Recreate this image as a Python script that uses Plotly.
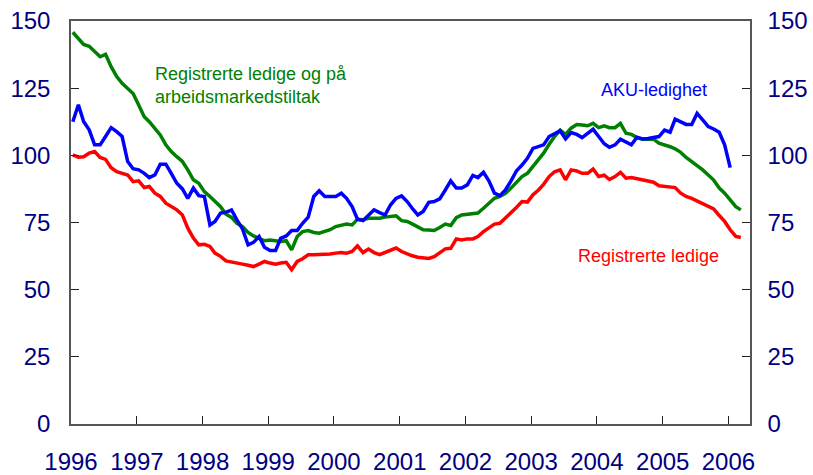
import pandas as pd
import plotly.graph_objects as go

# Monthly index values, Jan 1996 onwards (1996 = 100 for registered unemployed)
registrerte_tiltak = [
    145.8, 143.5, 141.3, 140.6, 138.6, 136.7, 137.6, 133.0, 129.3, 126.8, 124.9, 123.0,
    118.7, 114.4, 112.5, 110.0, 107.6, 103.9, 101.4, 99.5, 97.7, 94.6, 90.9, 89.6,
    86.5, 84.7, 82.8, 80.9, 78.1, 76.9, 74.7, 73.5, 71.3, 70.0, 69.1, 68.2,
    68.5, 68.2, 67.9, 68.2, 64.8, 69.8, 71.6, 72.0, 71.3, 71.0, 71.6, 72.3,
    73.5, 74.1, 74.4, 74.1, 76.2, 76.0, 76.6, 76.6, 76.6, 77.0, 77.2, 77.5,
    75.7, 75.4, 74.5, 73.3, 72.3, 72.2, 72.0, 73.1, 74.4, 73.9, 76.8, 77.8,
    78.1, 78.1, 78.5, 80.3, 82.2, 84.0, 84.7, 85.9, 87.8, 90.0, 92.1, 93.3,
    95.8, 98.3, 100.8, 104.1, 107.0, 109.4, 107.8, 110.1, 111.5, 111.3, 111.0, 111.9,
    110.3, 111.0, 110.3, 110.3, 111.9, 108.2, 107.8, 106.6, 106.0, 106.0, 106.0, 104.5,
    103.9, 103.2, 102.4, 101.1, 99.2, 97.7, 96.2, 94.6, 92.7, 90.8, 87.8, 85.9,
    83.4, 80.9, 79.7,
]

aku_ledighet = [
    112.5, 118.8, 112.6, 109.5, 103.9, 103.9, 107.0, 110.3, 108.8, 107.0, 97.7, 95.0,
    94.6, 93.3, 91.7, 92.7, 96.7, 96.7, 93.3, 89.6, 87.5, 84.0, 87.8, 85.0,
    84.7, 74.1, 75.4, 78.5, 78.8, 79.7, 76.0, 72.6, 66.7, 67.6, 69.8, 65.8,
    64.6, 64.6, 69.1, 70.0, 72.0, 72.0, 74.7, 77.0, 84.7, 86.8, 84.7, 84.7,
    84.7, 85.9, 84.0, 80.9, 76.2, 75.7, 77.5, 79.7, 78.7, 77.8, 81.6, 84.0,
    84.9, 82.8, 80.3, 77.8, 79.1, 82.5, 82.8, 83.8, 87.1, 90.5, 87.8, 87.8,
    89.0, 92.5, 91.7, 93.7, 90.5, 85.9, 85.0, 87.1, 90.5, 94.2, 96.4, 98.9,
    102.6, 103.2, 103.9, 107.0, 108.2, 109.1, 106.1, 108.5, 107.8, 106.6, 108.2, 109.7,
    107.0, 104.3, 103.0, 103.9, 106.0, 105.1, 103.9, 106.7, 106.1, 106.3, 106.6, 107.0,
    109.4, 108.6, 113.5, 112.5, 111.5, 111.5, 115.6, 113.2, 110.7, 109.8, 108.6, 103.9,
    95.4,
]

registrerte_ledige = [
    100.2, 99.3, 99.5, 100.8, 101.4, 99.2, 98.5, 95.4, 93.9, 93.3, 92.7, 90.2,
    90.5, 88.0, 88.4, 85.9, 84.7, 82.2, 80.9, 79.7, 77.8, 72.9, 69.2, 66.7,
    66.9, 66.1, 63.6, 62.4, 60.7, 60.2, 59.9, 59.5, 59.1, 58.6, 59.5, 60.5,
    59.9, 59.5, 59.9, 60.2, 57.4, 60.5, 61.5, 63.0, 63.0, 63.0, 63.0, 63.3,
    63.6, 63.8, 63.6, 64.2, 66.3, 63.8, 65.1, 63.8, 63.0, 63.8, 64.8, 65.5,
    64.2, 63.3, 62.6, 62.1, 61.7, 61.6, 62.3, 63.6, 65.2, 65.4, 68.9, 68.5,
    68.9, 68.9, 69.8, 71.6, 73.1, 74.4, 74.7, 76.6, 78.5, 80.6, 82.8, 82.6,
    85.3, 87.1, 89.2, 92.1, 93.9, 94.6, 90.9, 94.6, 94.2, 93.3, 93.3, 94.9,
    92.1, 92.6, 91.0, 92.1, 93.7, 91.5, 91.7, 91.2, 90.8, 90.5, 90.0, 88.7,
    88.4, 88.4, 88.0, 85.9, 84.7, 84.0, 83.0, 81.8, 80.9, 80.1, 77.6, 75.4,
    72.3, 69.8, 69.4,
]

year_labels = [str(y) for y in range(1996, 2007)]
y_ticks = [0, 25, 50, 75, 100, 125, 150]

months = pd.date_range("1996-01-01", periods=len(registrerte_tiltak), freq="MS") + pd.Timedelta(days=10)

FONT = "Liberation Sans, Arial, sans-serif"
NAVY = "#000080"

fig = go.Figure()
fig.add_trace(go.Scatter(x=months, y=registrerte_tiltak, mode="lines",
                         line=dict(color="#008000", width=3.5)))
fig.add_trace(go.Scatter(x=months[:len(aku_ledighet)], y=aku_ledighet, mode="lines",
                         line=dict(color="#0000FF", width=3.5)))
fig.add_trace(go.Scatter(x=months, y=registrerte_ledige, mode="lines",
                         line=dict(color="#FF0000", width=3.5), yaxis="y2"))

axis_common = dict(showgrid=False, zeroline=False, showline=True, linecolor="#555555",
                   linewidth=1.5, ticks="inside", ticklen=8, tickcolor="#222222",
                   automargin=False,
                   tickfont=dict(family=FONT, size=24, color=NAVY))

fig.update_layout(
    width=813, height=475,
    margin=dict(l=71, r=63, t=21, b=51),
    paper_bgcolor="white", plot_bgcolor="white",
    showlegend=False,
    xaxis=dict(axis_common, type="date", range=["1996-01-01", "2006-05-01"],
               tickvals=[f"{y}-01-01" for y in year_labels], ticktext=year_labels,
               mirror=True, ticklabelstandoff=15),
    yaxis=dict(axis_common, range=[0, 150], tickvals=y_ticks, ticklabelstandoff=14),
    yaxis2=dict(axis_common, range=[0, 150], tickvals=y_ticks, overlaying="y",
                side="right", ticklabelstandoff=11),
)

ann_font = dict(family=FONT, size=18)
fig.add_annotation(text="Registrerte ledige og på<br>arbeidsmarkedstiltak", xref="paper", yref="paper",
                   x=0.1208, y=0.839, xanchor="left", yanchor="middle", align="left",
                   showarrow=False, font=dict(ann_font, color="#008000"))
fig.add_annotation(text="AKU-ledighet", xref="paper", yref="paper",
                   x=0.7780, y=0.829, xanchor="left", yanchor="middle",
                   showarrow=False, font=dict(ann_font, color="#0000FF"))
fig.add_annotation(text="Registrerte ledige", xref="paper", yref="paper",
                   x=0.7440, y=0.417, xanchor="left", yanchor="middle",
                   showarrow=False, font=dict(ann_font, color="#FF0000"))

# drop the default 8px body margin so the figure fills the window; no modebar
fig.write_html("out.html", config={"displayModeBar": False},
               post_script="document.body.style.margin = '0';")
